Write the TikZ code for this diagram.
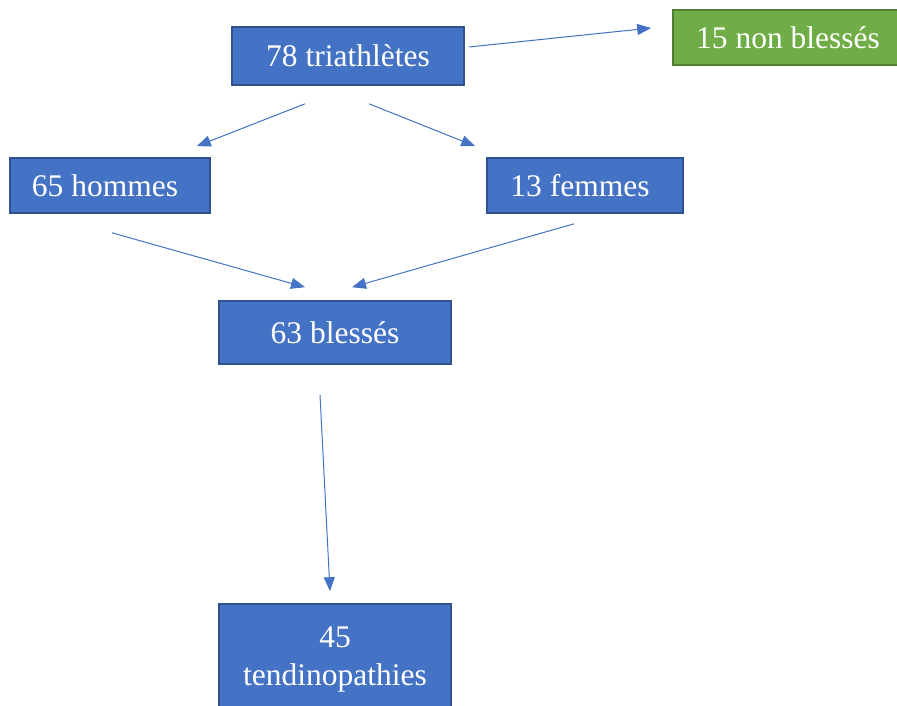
\documentclass[tikz,border=0pt]{standalone}
\usepackage{fontspec}
\setmainfont{Liberation Serif}
\usetikzlibrary{arrows.meta,calc}
\definecolor{boxblue}{HTML}{4472C4}
\definecolor{boxblueline}{HTML}{2F528F}
\definecolor{boxgreen}{HTML}{70AD47}
\definecolor{boxgreenline}{HTML}{507E32}
\begin{document}
\begin{tikzpicture}[x=1pt,y=-1pt,
  box/.style={draw=boxblueline, fill=boxblue, line width=1.6pt, inner sep=0pt,
    text=white, font=\fontsize{31.5}{38}\selectfont, align=center},
  greenbox/.style={box, draw=boxgreenline, fill=boxgreen},
  arr/.style={draw=boxblue, line width=1pt, -{Triangle[length=14pt,width=11pt]}}]
\clip (0,0) rectangle (897,705);
\fill[white] (0,0) rectangle (897,705);
\node[box, minimum width=232pt, minimum height=58pt] (tri) at (348,56) {78 triathlètes};
\node[greenbox, minimum width=230pt, minimum height=55pt] (non) at (788,37.5) {15 non blessés};
\node[box, minimum width=200pt, minimum height=55pt] (hom) at (110,185.5) {\hspace*{-10pt}65 hommes};
\node[box, minimum width=196pt, minimum height=55pt] (fem) at (585,185.5) {\hspace*{-10pt}13 femmes};
\node[box, minimum width=232pt, minimum height=63pt] (ble) at (335,332.5) {63 blessés};
\node[box, minimum width=232pt, minimum height=110pt] (ten) at (335,659) {45\\tendinopathies};
\draw[arr] ($(tri.east)+(4,-9)$) -- ($(non.west)+(-21,-9.5)$);
\draw[arr] ($(tri.south)+(-43,18)$) -- ($(hom.north east)+(-14,-11)$);
\draw[arr] ($(tri.south)+(21,18)$) -- ($(fem.north west)+(-11,-11)$);
\draw[arr] ($(hom.south)+(2,19)$) -- ($(ble.north)+(-30,-13)$);
\draw[arr] ($(fem.south)+(-11,10)$) -- ($(ble.north)+(17,-13)$);
\draw[arr] ($(ble.south)+(-15,30)$) -- ($(ten.north)+(-5,-12)$);
\end{tikzpicture}
\end{document}
